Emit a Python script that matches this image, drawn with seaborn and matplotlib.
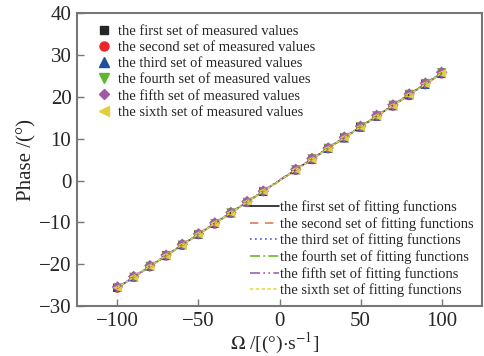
import numpy as np
import pandas as pd
import matplotlib
matplotlib.use("Agg")
import matplotlib.pyplot as plt
import seaborn as sns

omega = [-100, -90, -80, -70, -60, -50, -40, -30, -20, -10,
         10, 20, 30, 40, 50, 60, 70, 80, 90, 100]

set1 = [-25.6, -23.0, -20.5, -17.9, -15.4, -12.8, -10.3, -7.7, -5.1, -2.6,
        2.6, 5.1, 7.7, 10.3, 12.9, 15.4, 18.0, 20.5, 23.1, 25.7]
set2 = [-25.7, -23.1, -20.6, -18.0, -15.5, -12.9, -10.4, -7.8, -5.2, -2.6,
        2.5, 5.0, 7.6, 10.2, 12.7, 15.3, 17.8, 20.3, 22.9, 25.5]
set3 = [-25.5, -23.0, -20.4, -17.9, -15.3, -12.8, -10.2, -7.7, -5.1, -2.5,
        2.6, 5.1, 7.7, 10.2, 12.8, 15.4, 17.9, 20.5, 23.0, 25.6]
set4 = [-25.6, -23.1, -20.5, -18.0, -15.4, -12.9, -10.3, -7.7, -5.2, -2.6,
        2.6, 5.2, 7.7, 10.3, 12.9, 15.5, 18.0, 20.6, 23.2, 25.8]
set5 = [-25.4, -22.9, -20.3, -17.8, -15.2, -12.7, -10.1, -7.6, -5.0, -2.5,
        2.7, 5.3, 7.8, 10.4, 13.0, 15.6, 18.1, 20.7, 23.3, 25.9]
set6 = [-25.6, -23.0, -20.5, -17.9, -15.4, -12.8, -10.2, -7.7, -5.1, -2.5,
        2.6, 5.1, 7.7, 10.3, 12.8, 15.4, 17.9, 20.5, 23.1, 25.6]

meas_labels = ["the first set of measured values", "the second set of measured values",
               "the third set of measured values", "the fourth set of measured values",
               "the fifth set of measured values", "the sixth set of measured values"]
fit_labels = ["the first set of fitting functions", "the second set of fitting functions",
              "the third set of fitting functions", "the fourth set of fitting functions",
              "the fifth set of fitting functions", "the sixth set of fitting functions"]

xticks = [-100, -50, 0, 50, 100]
yticks = [-30, -20, -10, 0, 10, 20, 30, 40]

sets = [set1, set2, set3, set4, set5, set6]
markers = ["s", "o", "^", "v", "D", "<"]
msizes = [34, 44, 44, 44, 34, 44]
mcolors = ["#262626", "#e8262b", "#1f4e9e", "#5cb82e", "#a05aa8", "#e3cf3c"]
lcolors = ["#1a1a1a", "#e0785a", "#4a5ad0", "#6ab82e", "#a060b0", "#e6d84a"]
lstyles = ["-", (0, (5, 4)), (0, (1, 2)), (0, (6, 2, 1, 2)), (0, (6, 2, 1, 2, 1, 2)), (0, (2, 1.5))]

sns.set_theme(style="white")
plt.rcParams["font.family"] = ["Liberation Serif", "DejaVu Serif"]
plt.rcParams["mathtext.fontset"] = "stix"

fig = plt.figure(figsize=(4.84, 3.56), dpi=100)
ax = fig.add_axes([0.159, 0.140, 0.837, 0.823])

scat_handles = []
for i, s in enumerate(sets):
    df = pd.DataFrame({"x": omega, "y": s})
    sns.scatterplot(data=df, x="x", y="y", marker=markers[i], s=msizes[i],
                    color=mcolors[i], edgecolor="none", ax=ax, zorder=3)
    scat_handles.append(plt.Line2D([], [], marker=markers[i], color=mcolors[i], ls="none",
                                   markersize=5.5 if markers[i] in "sD" else 6.5))

line_handles = []
for i, s in enumerate(sets):
    k, b = np.polyfit(omega, s, 1)
    xf = [omega[0], omega[-1]]
    df = pd.DataFrame({"x": xf, "y": [k * xf[0] + b, k * xf[1] + b]})
    sns.lineplot(data=df, x="x", y="y", color=lcolors[i], linestyle=lstyles[i],
                 lw=1.0, ax=ax, zorder=4)
    line_handles.append(plt.Line2D([], [], color=lcolors[i], linestyle=lstyles[i], lw=1.2))

ax.set_xlim(-125, 125)
ax.set_ylim(-30, 40)
ax.set_xticks(xticks)
ax.set_yticks(yticks)
ax.set_xticklabels([("\u2212" + str(-t) if t < 0 else str(t)) for t in xticks])
ax.set_yticklabels([("\u2212" + str(-t) if t < 0 else str(t)) for t in yticks])
ax.tick_params(axis="both", direction="in", length=5, width=1, color="#777777",
               labelsize=15, pad=4, bottom=True, left=True)
ax.tick_params(axis="x", pad=4)
for sp in ax.spines.values():
    sp.set_color("#777777")
    sp.set_linewidth(1.5)

ax.set_xlabel("")
ax.set_ylabel("Phase /(°)", fontsize=15, labelpad=2)
fig.text(275 / 484, 1 - 343 / 356, r"$\Omega$ /[(°)$\cdot$s$^{-1}$]", fontsize=14,
         ha="center", va="center")

leg1 = ax.legend(scat_handles, meas_labels, loc="upper left", frameon=False,
                 fontsize=10.5, handlelength=1.0, handletextpad=0.45,
                 labelspacing=0.2, borderaxespad=0.4, bbox_to_anchor=(0.02, 1.0))
ax.add_artist(leg1)
ax.legend(line_handles, fit_labels, loc="lower right", frameon=False,
          fontsize=10.5, handlelength=2.0, handletextpad=0.05,
          labelspacing=0.2, borderaxespad=0.2)

fig.savefig("out.png", dpi=100)
